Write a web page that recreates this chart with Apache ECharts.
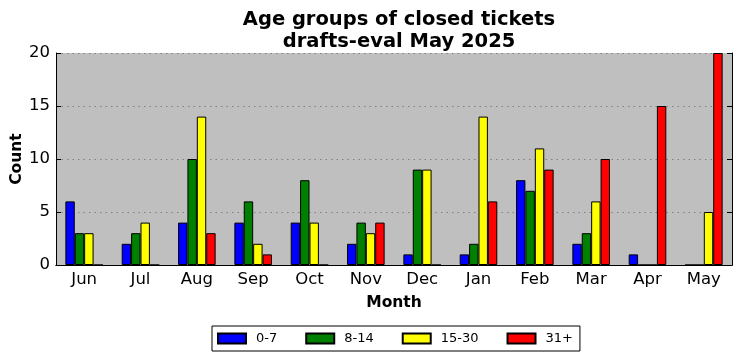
<!DOCTYPE html>
<html><head><meta charset="utf-8">
<script src="https://cdn.jsdelivr.net/npm/echarts@6/dist/echarts.min.js"></script>
<style>html,body{margin:0;padding:0;background:#fff}#c{width:742px;height:361px}</style>
</head><body><div id="c"></div>
<script>
const months = ['Jun','Jul','Aug','Sep','Oct','Nov','Dec','Jan','Feb','Mar','Apr','May'];
const g0_7   = [6,2,4,4,4,2,1,1,8,2,1,0];
const g8_14  = [3,3,10,6,8,4,9,2,7,3,0,0];
const g15_30 = [3,4,14,2,4,3,9,14,11,6,0,5];
const g31p   = [0,0,3,1,0,4,0,6,9,10,15,20];
const seriesNames = ['0-7','8-14','15-30','31+'];
const seriesData = [g0_7, g8_14, g15_30, g31p];
const colors = ['#0000ff','#008000','#ffff00','#ff0000'];

const F = 'DejaVu Sans';
const chart = echarts.init(document.getElementById('c'));
chart.setOption({
  animation: false,
  backgroundColor: '#fff',
  title: {
    text: 'Age groups of closed tickets\ndrafts-eval May 2025',
    left: 394, top: 4, textAlign: 'center',
    textStyle: {fontFamily: F, fontSize: 19.5, fontWeight: 'bold', color: '#000', lineHeight: 22}
  },
  legend: {
    data: seriesNames,
    left: 212, top: 326,
    icon: 'rect', itemWidth: 28, itemHeight: 10, itemGap: 28,
    borderColor: '#000', borderWidth: 1, padding: [6, 7, 6, 5],
    textStyle: {fontFamily: F, fontSize: 13, color: '#000', padding: [0,0,0,5]}
  },
  grid: {left: 56, right: 10, top: 53, bottom: 96, outerBoundsMode: 'none', containLabel: false,
         backgroundColor: '#bfbfbf', show: true, borderWidth: 0},
  xAxis: [{
    type: 'category', data: months, position: 'bottom',
    name: 'Month', nameLocation: 'middle', nameGap: 30, nameMoveOverlap: false,
    nameTextStyle: {fontFamily: F, fontSize: 15.5, fontWeight: 'bold', color: '#000'},
    axisLine: {lineStyle: {color: '#000', width: 1}},
    axisTick: {inside: true, length: 5, alignWithLabel: true, lineStyle: {color: '#000'}},
    axisLabel: {fontFamily: F, fontSize: 16.5, color: '#000', margin: 6}
  },{
    type: 'category', data: months, position: 'top',
    axisLine: {lineStyle: {color: '#000', width: 1}},
    axisTick: {inside: true, length: 5, alignWithLabel: true, lineStyle: {color: '#000'}},
    axisLabel: {show: false}
  }],
  yAxis: [{
    type: 'value', min: 0, max: 20, interval: 5, position: 'left',
    name: 'Count', nameLocation: 'middle', nameGap: 31, nameMoveOverlap: false,
    nameTextStyle: {fontFamily: F, fontSize: 15.5, fontWeight: 'bold', color: '#000'},
    axisLine: {show: true, lineStyle: {color: '#000', width: 1}},
    axisTick: {show: true, inside: true, length: 5, lineStyle: {color: '#000'}},
    axisLabel: {fontFamily: F, fontSize: 16.5, color: '#000', margin: 6},
    splitLine: {show: true, lineStyle: {color: '#808080', type: [1.5, 4], width: 1}}
  },{
    type: 'value', min: 0, max: 20, interval: 5, position: 'right',
    axisLine: {show: true, lineStyle: {color: '#000', width: 1}},
    axisTick: {show: true, inside: true, length: 5, lineStyle: {color: '#000'}},
    axisLabel: {show: false}, splitLine: {show: false}
  }],
  series: seriesNames.map((n, i) => ({
    name: n, type: 'bar', data: seriesData[i], xAxisIndex: 0, yAxisIndex: 0,
    barWidth: 9.4, barGap: '0%',
    itemStyle: {color: colors[i], borderColor: '#000', borderWidth: 1}
  }))
});
</script></body></html>
